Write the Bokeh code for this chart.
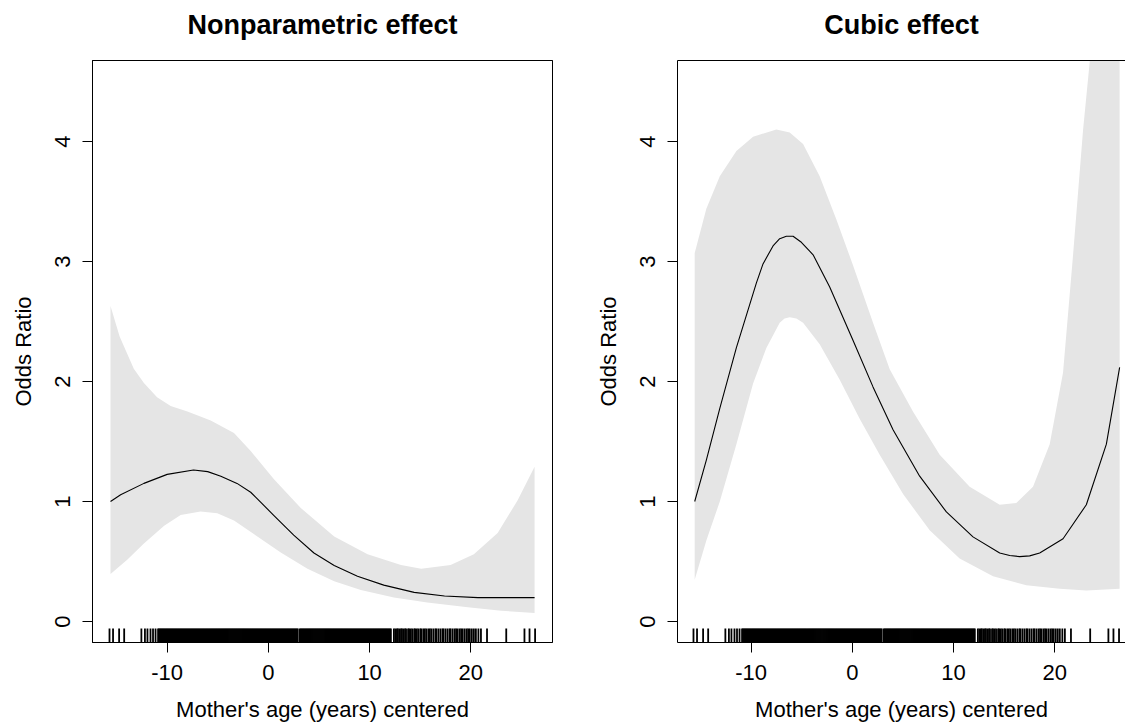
from bokeh.plotting import figure
from bokeh.layouts import row
from bokeh.models import FixedTicker, LinearAxis, Range1d
from bokeh.embed import file_html
from bokeh.resources import INLINE

FONT = "Liberation Sans"

# ---------------- data ----------------
x_ticks = [-10, 0, 10, 20]
x_tick_labels = ["-10", "0", "10", "20"]
y_ticks = [0, 1, 2, 3, 4]
titles = ["Nonparametric effect", "Cubic effect"]
x_label = "Mother's age (years) centered"
y_label = "Odds Ratio"

# Nonparametric effect
np_line_x = [-15.6, -14.6, -12.3, -10.0, -7.4, -6.0, -4.7, -3.1, -1.75, 0.55, 2.5, 4.5, 6.5, 8.8, 11.4, 14.4, 17.4, 20.7, 26.3]
np_line_y = [1.0, 1.056, 1.151, 1.226, 1.262, 1.249, 1.211, 1.151, 1.077, 0.883, 0.72, 0.571, 0.467, 0.377, 0.303, 0.243, 0.213, 0.199, 0.199]
np_up_x = [-15.6, -14.7, -13.3, -12.3, -11.0, -9.66, -8.0, -5.7, -3.4, -1.75, 0.55, 3.2, 6.5, 9.8, 13.1, 15.1, 18.0, 20.3, 22.65, 24.6, 26.3]
np_up_y = [2.63, 2.375, 2.107, 1.988, 1.869, 1.795, 1.75, 1.676, 1.571, 1.42, 1.185, 0.946, 0.708, 0.56, 0.47, 0.44, 0.47, 0.56, 0.738, 1.006, 1.29]
np_lo_x = [-15.6, -13.95, -12.3, -10.3, -8.67, -6.7, -5.05, -3.4, -1.09, 1.22, 3.86, 6.5, 9.13, 12.4, 15.7, 19.7, 23.0, 26.3]
np_lo_y = [0.396, 0.515, 0.649, 0.798, 0.887, 0.917, 0.902, 0.842, 0.708, 0.574, 0.44, 0.336, 0.262, 0.2, 0.158, 0.119, 0.09, 0.07]

# Cubic effect
cu_line_x = [-15.58, -14.43, -13.1, -11.46, -9.49, -8.83, -7.84, -7.18, -6.52, -5.86, -5.04, -4.22, -3.88, -2.24, 0.07, 2.04, 4.02, 6.65, 9.29, 11.92, 14.56, 15.55, 16.53, 17.52, 18.51, 20.82, 23.12, 25.1, 26.41]
cu_line_y = [1.0, 1.345, 1.776, 2.282, 2.82, 2.98, 3.13, 3.19, 3.21, 3.21, 3.16, 3.086, 3.056, 2.788, 2.342, 1.955, 1.598, 1.211, 0.913, 0.705, 0.571, 0.55, 0.541, 0.547, 0.571, 0.69, 0.973, 1.478, 2.118]
cu_up_x = [-15.58, -14.43, -13.1, -11.46, -9.81, -7.51, -6.19, -4.87, -3.23, -1.58, 0.07, 2.04, 3.69, 6.0, 8.63, 11.59, 14.56, 16.2, 17.85, 19.5, 20.82, 21.81, 22.8, 23.45, 24.5, 25.5, 26.41]
cu_up_y = [3.07, 3.44, 3.71, 3.92, 4.04, 4.1, 4.074, 3.98, 3.71, 3.35, 2.967, 2.49, 2.103, 1.747, 1.389, 1.122, 0.973, 0.988, 1.122, 1.478, 2.074, 3.056, 4.1, 4.66, 7.5, 11.0, 15.0]
cu_lo_x = [-15.58, -14.43, -13.1, -11.46, -9.81, -8.5, -7.18, -6.7, -6.19, -5.53, -4.87, -3.23, -1.25, 0.72, 2.7, 5.01, 7.64, 10.6, 13.9, 17.19, 20.49, 23.12, 26.41]
cu_lo_y = [0.347, 0.675, 1.0, 1.478, 1.984, 2.28, 2.49, 2.525, 2.535, 2.525, 2.49, 2.31, 2.014, 1.69, 1.389, 1.062, 0.76, 0.526, 0.377, 0.303, 0.273, 0.258, 0.273]

# observed mother's ages (centered) for the rug
rug_x = [
    -15.7, -15.35, -14.75, -14.25, -12.55, -12.2, -11.95, -11.65, -11.4, -11.15,
    -10.9, -10.8, -10.7, -10.6, -10.5, -10.4, -10.3, -10.2, -10.1, -10.0,
    -9.9, -9.8, -9.7, -9.6, -9.5, -9.4, -9.3, -9.2, -9.1, -9.0,
    -8.9, -8.8, -8.7, -8.6, -8.5, -8.4, -8.3, -8.2, -8.1, -8.0,
    -7.9, -7.8, -7.7, -7.6, -7.5, -7.4, -7.3, -7.2, -7.1, -7.0,
    -6.9, -6.8, -6.7, -6.6, -6.5, -6.4, -6.3, -6.2, -6.1, -6.0,
    -5.9, -5.8, -5.7, -5.6, -5.5, -5.4, -5.3, -5.2, -5.1, -5.0,
    -4.9, -4.8, -4.7, -4.6, -4.5, -4.4, -4.3, -4.2, -4.1, -4.0,
    -3.9, -3.8, -3.7, -3.6, -3.5, -3.4, -3.3, -3.2, -3.1, -3.0,
    -2.9, -2.8, -2.7, -2.6, -2.5, -2.4, -2.3, -2.2, -2.1, -2.0,
    -1.9, -1.8, -1.7, -1.6, -1.5, -1.4, -1.3, -1.2, -1.1, -1.0,
    -0.9, -0.8, -0.7, -0.6, -0.5, -0.4, -0.3, -0.2, -0.1, 0.0,
    0.1, 0.2, 0.3, 0.4, 0.5, 0.6, 0.7, 0.8, 0.9, 1.0,
    1.1, 1.2, 1.3, 1.4, 1.5, 1.6, 1.7, 1.8, 1.9, 2.0,
    2.1, 2.2, 2.3, 2.4, 2.5, 2.6, 2.7, 2.8, 2.9, 3.1,
    3.2, 3.3, 3.4, 3.5, 3.6, 3.7, 3.8, 3.9, 4.0, 4.1,
    4.2, 4.3, 4.4, 4.5, 4.6, 4.7, 4.8, 4.9, 5.0, 5.1,
    5.2, 5.3, 5.4, 5.5, 5.6, 5.7, 5.8, 5.9, 6.0, 6.1,
    6.2, 6.3, 6.4, 6.5, 6.6, 6.7, 6.8, 6.9, 7.0, 7.1,
    7.2, 7.3, 7.4, 7.5, 7.6, 7.7, 7.8, 7.9, 8.0, 8.1,
    8.2, 8.3, 8.4, 8.5, 8.6, 8.7, 8.8, 8.9, 9.0, 9.1,
    9.2, 9.3, 9.4, 9.5, 9.6, 9.7, 9.8, 9.9, 10.0, 10.1,
    10.2, 10.3, 10.4, 10.5, 10.6, 10.7, 10.8, 10.9, 11.0, 11.1,
    11.2, 11.3, 11.4, 11.5, 11.6, 11.7, 11.8, 11.9, 12.0, 12.1,
    12.4, 12.55, 12.7, 12.8, 12.95, 13.1, 13.2, 13.35, 13.5, 13.6,
    13.8, 13.9, 14.05, 14.2, 14.4, 14.5, 14.65, 14.8, 15.0, 15.1,
    15.3, 15.45, 15.6, 15.8, 15.95, 16.1, 16.3, 16.5, 16.6, 16.8,
    17.0, 17.2, 17.3, 17.5, 17.7, 17.9, 18.0, 18.2, 18.4, 18.55,
    18.7, 18.9, 19.05, 19.2, 19.4, 19.6, 19.75, 19.9, 20.1, 20.3,
    20.5, 20.75, 21.0, 21.6, 23.5, 25.3, 25.8, 26.35,
]

# ---------------- drawing ----------------
Y0, Y1 = -0.175, 4.675
PX_PER_Y = 120.0
RUG_LEN = 14 / PX_PER_Y
TXT = "22px"


def make_panel(title, width, x0, x1, mleft, mright, band, line, right_edge):
    p = figure(width=width, height=727,
               x_range=Range1d(x0, x1), y_range=Range1d(Y0, Y1),
               min_border_left=mleft, min_border_right=mright,
               min_border_top=60, min_border_bottom=85,
               output_backend="svg", toolbar_location=None)
    p.xgrid.grid_line_color = None
    p.ygrid.grid_line_color = None
    p.background_fill_color = "white"
    p.border_fill_color = "white"

    (ux, uy), (lx, ly) = band
    p.patch(ux + lx[::-1], uy + ly[::-1], fill_color="#e5e5e5", line_color=None)
    p.line(line[0], line[1], line_color="black", line_width=1.1)
    p.segment(x0=rug_x, y0=[Y0] * len(rug_x), x1=rug_x, y1=[Y0 + RUG_LEN] * len(rug_x),
              line_color="black", line_width=1.8)

    for ax in (p.xaxis[0], p.yaxis[0]):
        ax.major_tick_out = 10
        ax.major_tick_in = 0
        ax.minor_tick_line_color = None
        ax.major_tick_line_color = "black"
        ax.major_label_text_font = FONT
        ax.major_label_text_font_size = TXT
        ax.major_label_text_color = "black"
        ax.axis_label_text_font = FONT
        ax.axis_label_text_font_size = TXT
        ax.axis_label_text_font_style = "normal"
        ax.axis_label_text_color = "black"
        ax.axis_line_color = "black"
    p.xaxis.ticker = FixedTicker(ticks=x_ticks)
    p.xaxis.major_label_overrides = {t: s for t, s in zip(x_ticks, x_tick_labels)}
    p.yaxis.ticker = FixedTicker(ticks=y_ticks)
    p.xaxis.axis_label = x_label
    p.yaxis.axis_label = y_label
    p.yaxis.major_label_orientation = "parallel"
    p.xaxis.major_label_standoff = 12
    p.xaxis.axis_label_standoff = 14
    p.yaxis.major_label_standoff = 13
    p.yaxis.axis_label_standoff = 16

    # top axis: carries the panel title as its label (and the top border line)
    top = LinearAxis(ticker=FixedTicker(ticks=[]), major_label_text_font_size="0px",
                     major_tick_line_color=None, minor_tick_line_color=None,
                     axis_label=title, axis_label_text_font=FONT,
                     axis_label_text_font_size="27px", axis_label_text_font_style="bold",
                     axis_label_text_color="black", axis_label_standoff=21,
                     axis_line_color="black")
    p.add_layout(top, "above")

    if right_edge:
        p.outline_line_color = "black"
        p.outline_line_width = 1
    else:
        p.outline_line_color = None
    return p


p1 = make_panel(titles[0], 587, -17.38, 28.07, 92, 35,
                ((np_up_x, np_up_y), (np_lo_x, np_lo_y)), (np_line_x, np_line_y), True)
p2 = make_panel(titles[1], 538, -17.28, 26.99, 90, 0,
                ((cu_up_x, cu_up_y), (cu_lo_x, cu_lo_y)), (cu_line_x, cu_line_y), False)

layout = row(p1, p2)
open("out.html", "w").write(file_html(layout, INLINE))
